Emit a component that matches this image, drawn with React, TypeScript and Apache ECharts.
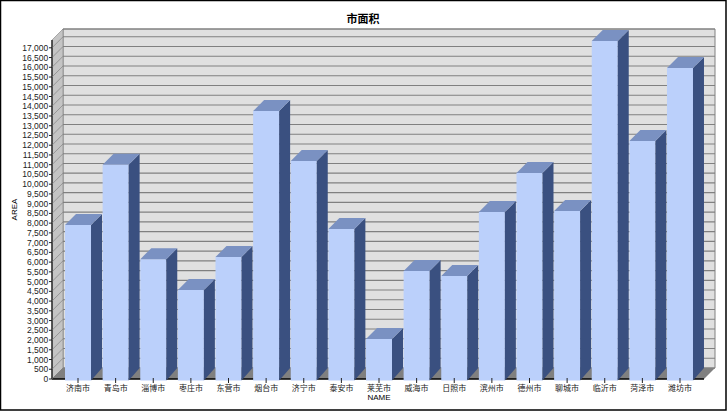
import React, { useEffect, useRef } from "react";
import * as echarts from "echarts";

const categories = ["济南市","青岛市","淄博市","枣庄市","东营市","烟台市","济宁市","泰安市","莱芜市","威海市","日照市","滨州市","德州市","聊城市","临沂市","菏泽市","潍坊市"];
const areaValues = [7900,11000,6150,4570,6260,13750,11190,7700,2050,5540,5290,8570,10570,8620,17350,12220,15960];
const yTicks = [0,500,1000,1500,2000,2500,3000,3500,4000,4500,5000,5500,6000,6500,7000,7500,8000,8500,9000,9500,10000,10500,11000,11500,12000,12500,13000,13500,14000,14500,15000,15500,16000,16500,17000];

const DEPTH = 11;
const AXIS_MAX = 17400;
const LEFT = 59.2, RIGHT = 28.2, TOP = 40, BOTTOM = 32;
const PAD_L = 7.2, PAD_R = 5.2;

export default function App() {
  const ref = useRef<HTMLDivElement>(null);
  useEffect(() => {
    document.body.style.margin = "0";
    const chart = echarts.init(ref.current!, null, { renderer: "svg" });
    const font = "'Liberation Sans','Noto Sans CJK SC',sans-serif";
    chart.setOption({
      animation: false,
      backgroundColor: "#fff",
      textStyle: { fontFamily: font },
      title: {
        text: "市面积", left: 358, top: 8, textAlign: "center",
        textStyle: { fontSize: 11, fontWeight: "bold", color: "#000", fontFamily: font, textAlign: "center" },
      },
      grid: { left: LEFT, right: RIGHT, top: TOP, bottom: BOTTOM, outerBoundsMode: "none", containLabel: false },
      xAxis: {
        type: "category", data: categories, boundaryGap: true,
        axisLine: { show: false },
        axisTick: { show: false },
        axisLabel: { fontSize: 8, color: "#222", margin: 5, interval: 0 },
        name: "NAME", nameLocation: "middle", nameGap: 14, nameMoveOverlap: false,
        nameTextStyle: { fontSize: 8, color: "#000" },
      },
      yAxis: {
        type: "value", min: 0, max: AXIS_MAX, interval: 500,
        axisLine: { show: false },
        axisTick: { show: false },
        splitLine: { show: false },
        axisLabel: {
          show: true, showMaxLabel: false, fontSize: 8.5, color: "#222", margin: 11,
          formatter: (v: number) => (v % 500 === 0 ? v.toLocaleString("en-US") : ""),
        },
        name: "AREA", nameLocation: "middle", nameGap: 41, nameMoveOverlap: false,
        nameTextStyle: { fontSize: 8, color: "#000" },
      },
      series: [
        {
          type: "custom", z: 1, silent: true,
          data: yTicks.map((v) => [0, v]),
          encode: { x: 0, y: 1 },
          renderItem: (params: any, api: any) => {
            const cs = params.coordSys;
            const x0 = cs.x - PAD_L, x1 = cs.x + cs.width + PAD_R;
            const yT = cs.y, yB = cs.y + cs.height;
            const y = api.coord([0, api.value(1)])[1];
            const children: any[] = [];
            if (params.dataIndex === 0) {
              children.push(
                { type: "rect", shape: { x: x0 + DEPTH, y: yT - DEPTH, width: x1 - x0, height: yB - yT }, style: { fill: "#e0e0e0", stroke: "#808080", lineWidth: 1 } },
                { type: "polygon", shape: { points: [[x0, yT], [x0 + DEPTH, yT - DEPTH], [x0 + DEPTH, yB - DEPTH], [x0, yB]] }, style: { fill: "#c4c4c4", stroke: "#808080", lineWidth: 0.6 } },
                { type: "polygon", shape: { points: [[x0, yB], [x0 + DEPTH, yB - DEPTH], [x1 + DEPTH, yB - DEPTH], [x1, yB]] }, style: { fill: "#808080" } },
                { type: "line", shape: { x1: x0, y1: yT, x2: x0, y2: yB }, style: { stroke: "#222", lineWidth: 1.4 } },
                { type: "line", shape: { x1: x0, y1: yB, x2: x1, y2: yB }, style: { stroke: "#000", lineWidth: 1.4 } },
                { type: "line", shape: { x1: x0 + DEPTH, y1: yT - DEPTH, x2: x1 + DEPTH, y2: yT - DEPTH }, style: { stroke: "#808080", lineWidth: 1.2 } },
              );
            }
            children.push(
              { type: "line", shape: { x1: x0 + DEPTH, y1: y - DEPTH, x2: x1 + DEPTH, y2: y - DEPTH }, style: { stroke: "#808080", lineWidth: 1.1 } },
              { type: "line", shape: { x1: x0, y1: y, x2: x0 + DEPTH, y2: y - DEPTH }, style: { stroke: "#777", lineWidth: 0.6 } },
              { type: "line", shape: { x1: x0 - 3, y1: y, x2: x0, y2: y }, style: { stroke: "#222", lineWidth: 1 } },
            );
            return { type: "group", children };
          },
        },
        {
          type: "custom", z: 2, silent: true,
          data: areaValues.map((v, i) => [i, v]),
          encode: { x: 0, y: 1 },
          renderItem: (params: any, api: any) => {
            const i = api.value(0);
            const top = api.coord([i, api.value(1)]);
            const base = api.coord([i, 0]);
            const w = 26;
            const xL = top[0] - w / 2, xR = top[0] + w / 2;
            const yT = top[1], yB = base[1] + 1.5;
            return {
              type: "group",
              children: [
                { type: "rect", shape: { x: xL, y: yT, width: w, height: yB - yT }, style: { fill: "#bbd0fb" } },
                { type: "polygon", shape: { points: [[xR, yT], [xR + DEPTH, yT - DEPTH], [xR + DEPTH, yB - DEPTH - 1.5], [xR, yB]] }, style: { fill: "#3a5080" } },
                { type: "polygon", shape: { points: [[xL, yT], [xL + DEPTH, yT - DEPTH], [xR + DEPTH, yT - DEPTH], [xR, yT]] }, style: { fill: "#7a91c2" } },
                { type: "line", shape: { x1: top[0], y1: base[1] - 1, x2: top[0], y2: base[1] + 4 }, style: { stroke: "#222", lineWidth: 1 } },
              ],
            };
          },
        },
      ],
      graphic: [
        { type: "rect", z: 100, silent: true, shape: { x: 0.5, y: 0.5, width: 725.5, height: 409.5 }, style: { fill: "none", stroke: "#000", lineWidth: 1.5 } },
      ],
    });
    return () => chart.dispose();
  }, []);
  return <div ref={ref} style={{ width: 727, height: 411 }} />;
}
